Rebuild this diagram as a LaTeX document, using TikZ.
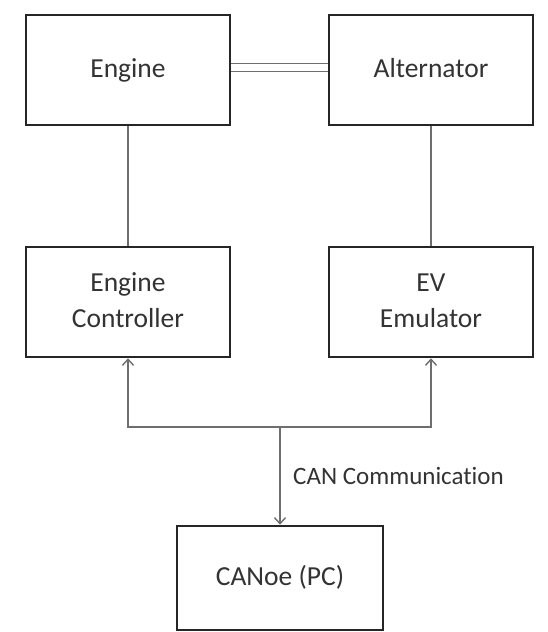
\documentclass[tikz,border=0pt]{standalone}
\usepackage{fontspec}
\setmainfont[Ligatures=NoCommon]{Carlito}
\usetikzlibrary{arrows.meta}
\definecolor{txt}{HTML}{333333}
\definecolor{conn}{HTML}{6E6E6E}
\tikzset{
  blk/.style={draw=black!85, line width=2.6pt, minimum width=204pt, minimum height=110pt,
    inner sep=0pt, align=center, font=\fontsize{27.5}{36}\selectfont, text=txt},
  wire/.style={draw=conn, line width=1.4pt},
  arr/.style={wire, -{Straight Barb[length=6pt,width=11pt,line width=1.4pt]}},
}
\begin{document}
\begin{tikzpicture}[x=1pt,y=-1pt]
\useasboundingbox[fill=white] (0,0) rectangle (547,632);
\node[blk] (engine) at (128,70) {Engine\strut};
\node[blk] (alt) at (431,70) {Alternator\strut};
\node[blk] (ec) at (128,302) {Engine\strut\\Controller\strut};
\node[blk] (ev) at (431,302) {EV\strut\\Emulator\strut};
\node[blk, minimum width=206pt, minimum height=104pt] (canoe) at (280,578) {CANoe (PC)\strut};
\draw[wire, double=white, double distance=7pt] ([yshift=2.5pt]engine.east) -- ([yshift=2.5pt]alt.west);
\draw[wire] (engine.south) -- (ec.north);
\draw[wire] (alt.south) -- (ev.north);
\coordinate (bus) at (280,427);
\draw[arr] (bus) -| (ec.south);
\draw[arr] (bus) -| (ev.south);
\draw[arr] (bus) -- (canoe.north);
\node[anchor=west, font=\fontsize{25}{30}\selectfont, text=txt, inner sep=0pt] (canlbl) at (293,476) {CAN Communication};
\end{tikzpicture}
\end{document}
